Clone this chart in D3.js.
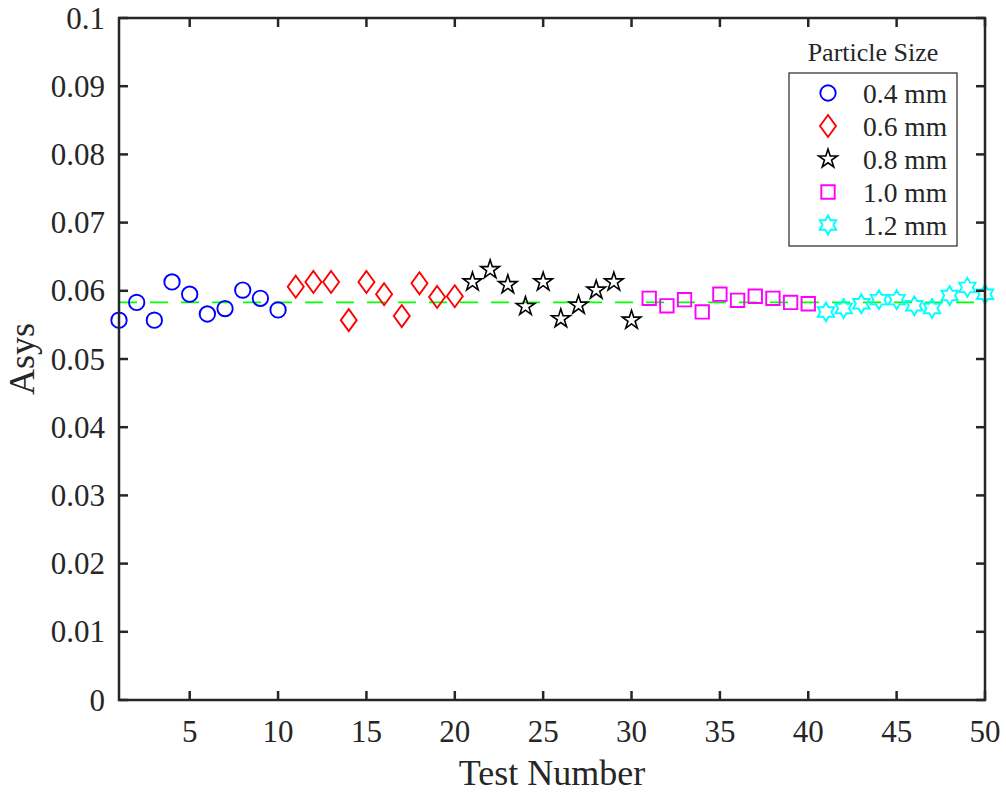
<!DOCTYPE html>
<html>
<head>
<meta charset="utf-8">
<script src="https://cdn.jsdelivr.net/npm/d3@7"></script>
<style>
  body { margin: 0; background: #fff; }
  svg text { font-family: "Times New Roman", "Liberation Serif", serif; fill: #262626; }
</style>
</head>
<body>
<svg id="chart" width="1006" height="794"></svg>
<script>
var width = 1006,
    height = 794;

// values, 10 tests per particle size
var sizes = ["0.4 mm", "0.6 mm", "0.8 mm", "1.0 mm", "1.2 mm"];
var asys04 = [0.0557, 0.0583, 0.0557, 0.0613, 0.0595, 0.0566, 0.0574, 0.0601, 0.0589, 0.0572];
var asys06 = [0.0606, 0.0613, 0.0613, 0.0557, 0.0613, 0.0595, 0.0563, 0.0611, 0.0591, 0.0592];
var asys08 = [0.0613, 0.0631, 0.0609, 0.0577, 0.0613, 0.0559, 0.0579, 0.0601, 0.0613, 0.0557];
var asys10 = [0.0589, 0.0578, 0.0587, 0.0569, 0.0595, 0.0586, 0.0592, 0.0589, 0.0583, 0.0581];
var asys12 = [0.0569, 0.0574, 0.0581, 0.0587, 0.0587, 0.0578, 0.0574, 0.0593, 0.0605, 0.0595];
var meanAsys = 0.0583;
var xTicks = [5, 10, 15, 20, 25, 30, 35, 40, 45, 50];
var yTicks = [0, 0.01, 0.02, 0.03, 0.04, 0.05, 0.06, 0.07, 0.08, 0.09, 0.1];

var colors = ["#0000ff", "#ff0000", "#000000", "#ff00ff", "#00ffff"];
var shapes = ["circle", "diamond", "pentagram", "square", "hexagram"];

var plotL = 119, plotR = 985, plotT = 18, plotB = 700;

var x = d3.scaleLinear().domain([1, 50]).range([plotL, plotR]);
var y = d3.scaleLinear().domain([0, 0.1]).range([plotB, plotT]);

var svg = d3.select("#chart");
var axisColor = "#262626";

// build the point list from the series
var series = [asys04, asys06, asys08, asys10, asys12];
var points = [];
series.forEach(function(vals, s) {
    vals.forEach(function(v, i) {
        points.push({ test: s * 10 + i + 1, value: v, s: s });
    });
});

function starPath(n, R, r) {
    var pts = [];
    for (var i = 0; i < 2 * n; i++) {
        var a = i * Math.PI / n;
        var rad = i % 2 === 0 ? R : r;
        pts.push([rad * Math.sin(a), -rad * Math.cos(a)]);
    }
    return "M" + pts.map(function(p) { return p[0].toFixed(2) + "," + p[1].toFixed(2); }).join("L") + "Z";
}

function markerPath(shape) {
    if (shape === "circle") return d3.arc()({ innerRadius: 0, outerRadius: 7.7, startAngle: 0, endAngle: 2 * Math.PI });
    if (shape === "diamond") return "M0,-11L8,0L0,11L-8,0Z";
    if (shape === "square") return "M-6.7,-6.7H6.7V6.7H-6.7Z";
    if (shape === "pentagram") return starPath(5, 9.8, 9.8 * 0.382);
    return starPath(6, 9.5, 9.5 / Math.sqrt(3));
}

// mean line
svg.append("line")
    .attr("x1", x(1)).attr("x2", x(50))
    .attr("y1", y(meanAsys)).attr("y2", y(meanAsys))
    .attr("stroke", "#00ff00")
    .attr("stroke-width", 1.8)
    .attr("stroke-dasharray", "18,13");

// markers
svg.append("g").selectAll("path")
    .data(points)
    .enter()
    .append("path")
        .attr("d", function(d) { return markerPath(shapes[d.s]); })
        .attr("transform", function(d) { return "translate(" + x(d.test) + "," + y(d.value) + ")"; })
        .attr("fill", "none")
        .attr("stroke", function(d) { return colors[d.s]; })
        .attr("stroke-width", function(d) { return d.s === 2 ? 1.6 : 1.9; });

// axes box with inward ticks on all sides
var tickLen = 9;
var g = svg.append("g").attr("stroke", axisColor).attr("stroke-width", 2.5);
g.append("rect")
    .attr("x", plotL).attr("y", plotT)
    .attr("width", plotR - plotL).attr("height", plotB - plotT)
    .attr("fill", "none");
xTicks.forEach(function(t) {
    g.append("line").attr("x1", x(t)).attr("x2", x(t)).attr("y1", plotB).attr("y2", plotB - tickLen);
    g.append("line").attr("x1", x(t)).attr("x2", x(t)).attr("y1", plotT).attr("y2", plotT + tickLen);
});
yTicks.forEach(function(t) {
    g.append("line").attr("x1", plotL).attr("x2", plotL + tickLen).attr("y1", y(t)).attr("y2", y(t));
    g.append("line").attr("x1", plotR).attr("x2", plotR - tickLen).attr("y1", y(t)).attr("y2", y(t));
});

// tick labels
svg.append("g").selectAll("text")
    .data(xTicks)
    .enter()
    .append("text")
        .attr("x", function(d) { return x(d); })
        .attr("y", 742)
        .attr("text-anchor", "middle")
        .attr("font-size", 31)
        .text(function(d) { return d; });

svg.append("g").selectAll("text")
    .data(yTicks)
    .enter()
    .append("text")
        .attr("x", 105)
        .attr("y", function(d) { return y(d); })
        .attr("dy", "0.34em")
        .attr("text-anchor", "end")
        .attr("font-size", 31)
        .text(function(d) { return d3.format("~g")(d); });

// axis titles
svg.append("text")
    .attr("x", (plotL + plotR) / 2)
    .attr("y", 785)
    .attr("text-anchor", "middle")
    .attr("font-size", 36)
    .text("Test Number");

svg.append("text")
    .attr("transform", "translate(34," + ((plotT + plotB) / 2) + ") rotate(-90)")
    .attr("text-anchor", "middle")
    .attr("font-size", 36)
    .text("Asys");

// legend
var legend = svg.append("g");
legend.append("text")
    .attr("x", 873).attr("y", 61)
    .attr("text-anchor", "middle")
    .attr("font-size", 26)
    .text("Particle Size");
legend.append("rect")
    .attr("x", 789).attr("y", 73)
    .attr("width", 168).attr("height", 173)
    .attr("fill", "#fff")
    .attr("stroke", axisColor)
    .attr("stroke-width", 1.2);

var rows = legend.selectAll(".row")
    .data(sizes)
    .enter()
    .append("g")
        .attr("class", "row")
        .attr("transform", function(d, i) { return "translate(0," + (93 + i * 33) + ")"; });
rows.append("path")
    .attr("d", function(d, i) { return markerPath(shapes[i]); })
    .attr("transform", "translate(828,0)")
    .attr("fill", "none")
    .attr("stroke", function(d, i) { return colors[i]; })
    .attr("stroke-width", function(d, i) { return i === 2 ? 1.6 : 1.9; });
rows.append("text")
    .attr("x", 863)
    .attr("dy", "0.35em")
    .attr("font-size", 27.5)
    .text(function(d) { return d; });
</script>
</body>
</html>
